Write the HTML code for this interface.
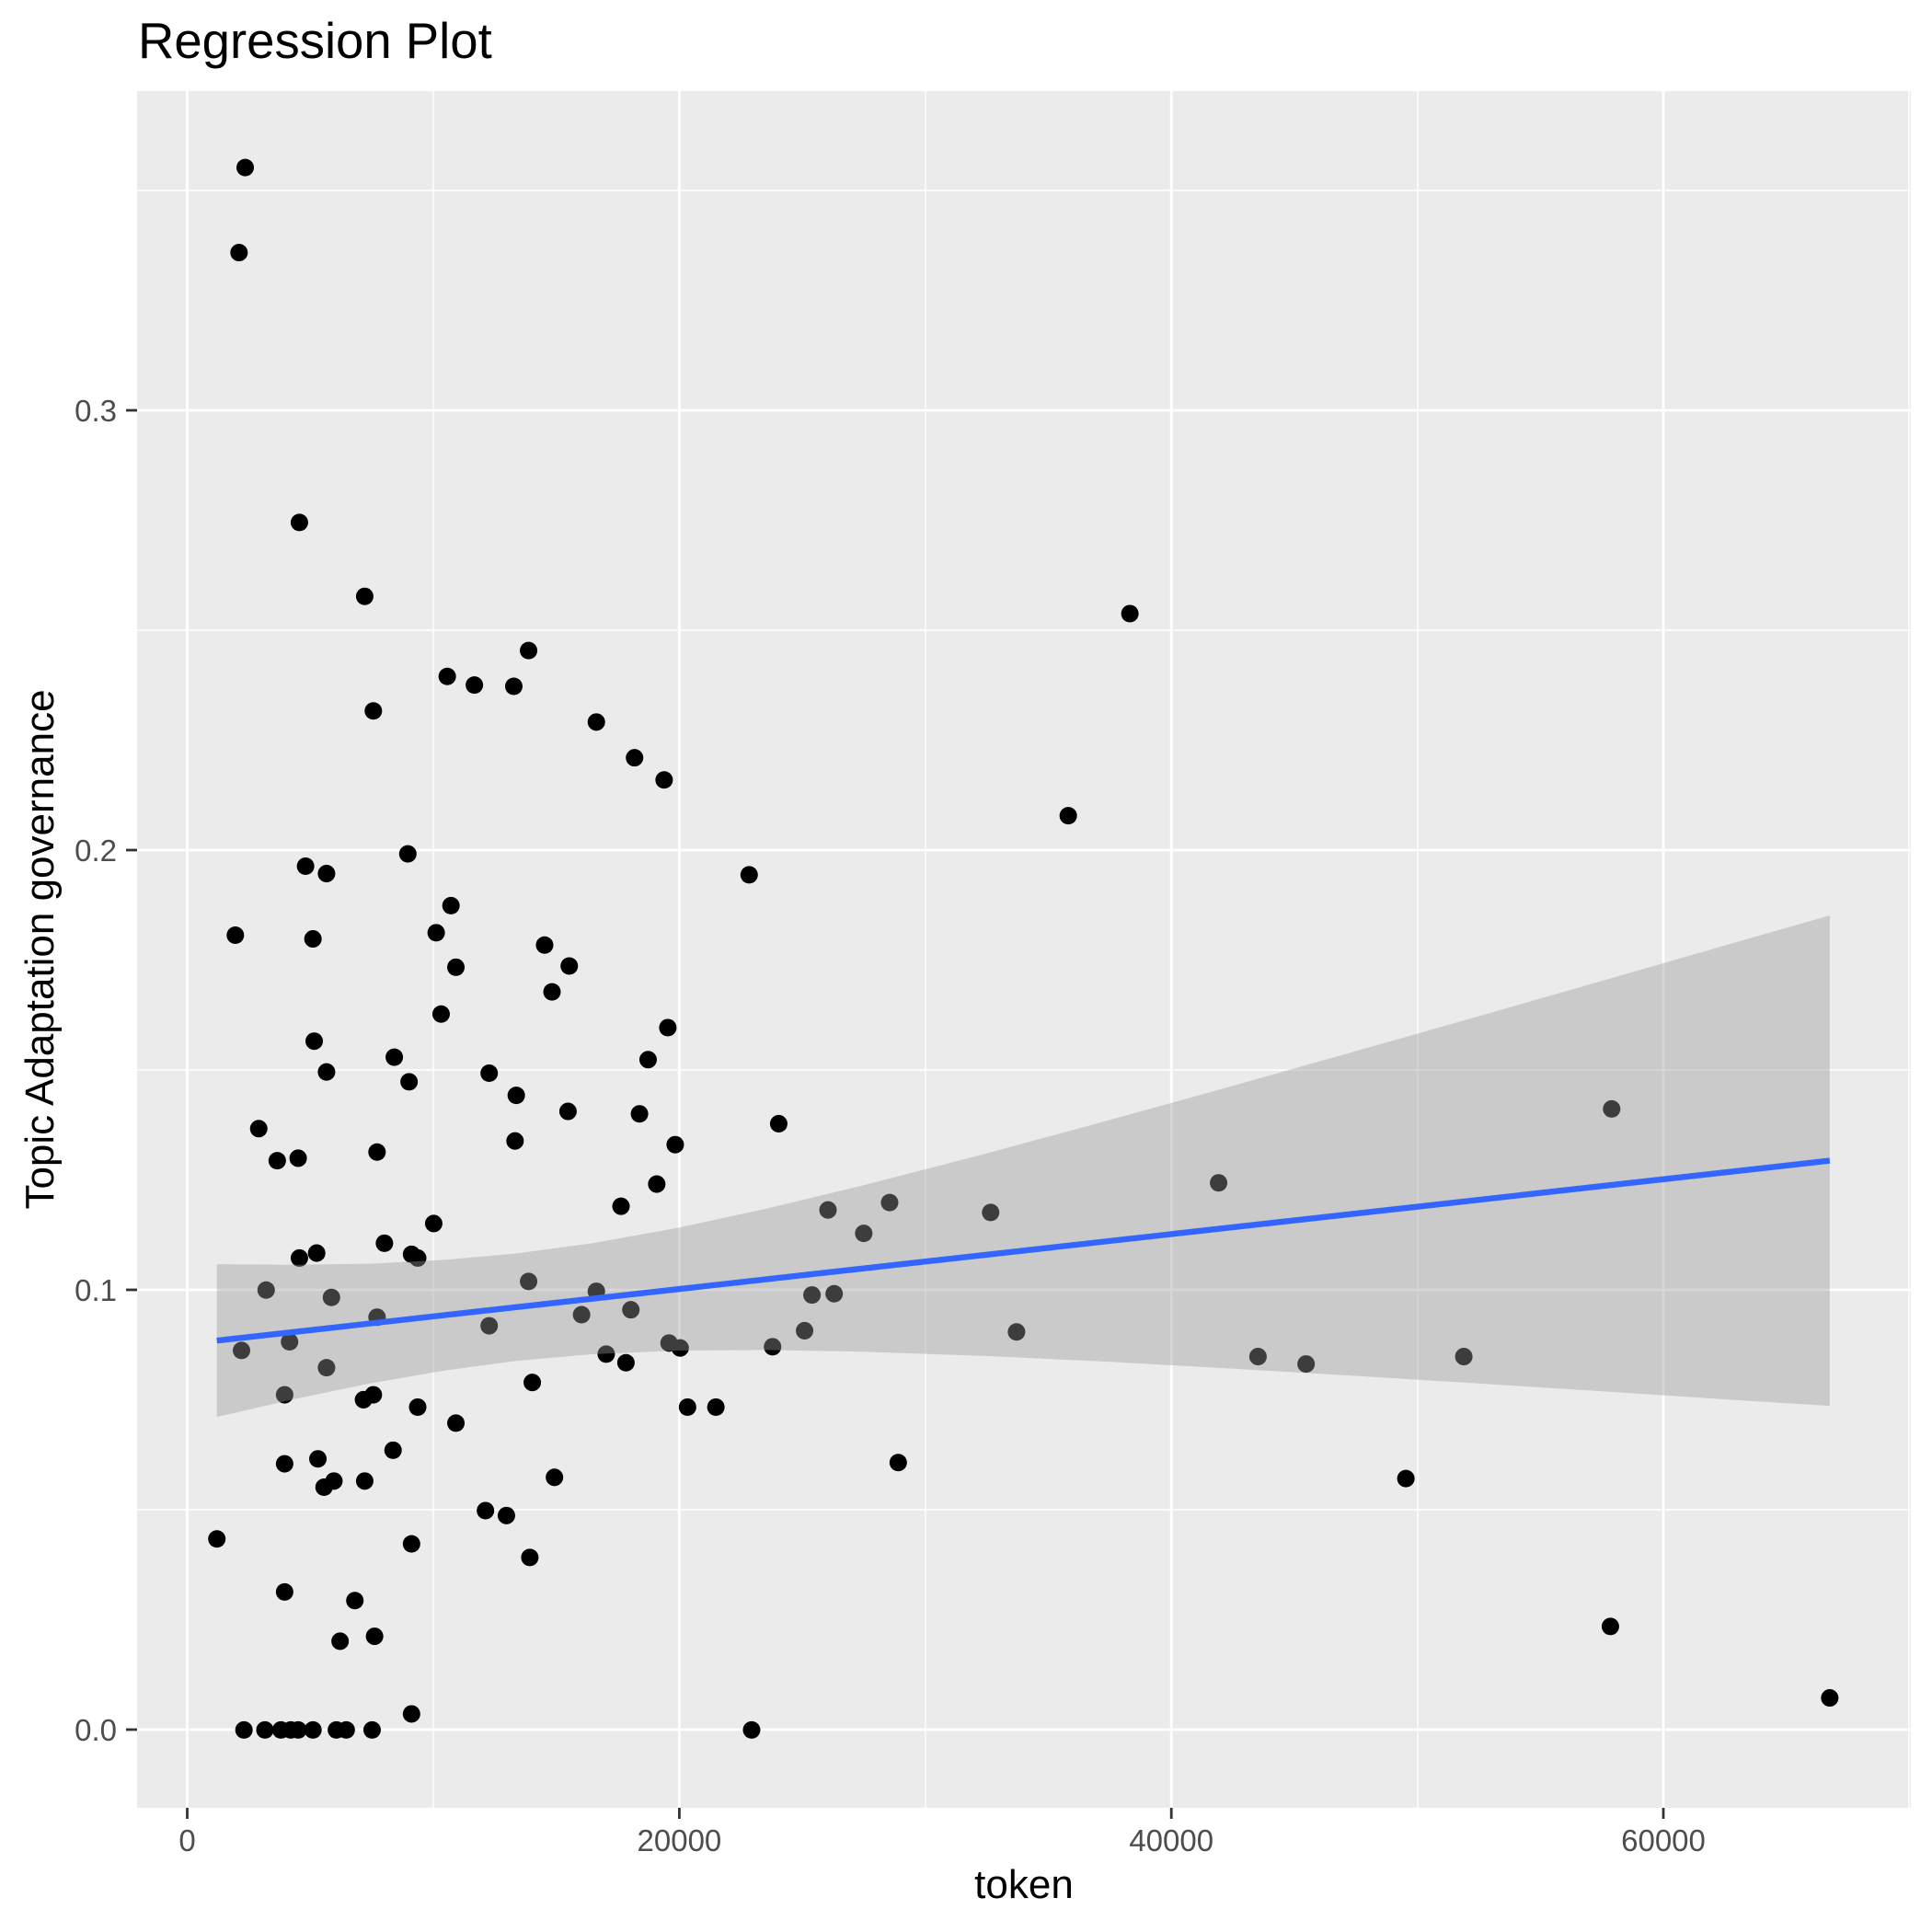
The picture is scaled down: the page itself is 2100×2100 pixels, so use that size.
<!DOCTYPE html>
<html><head><meta charset="utf-8"><style>html,body{margin:0;padding:0;background:#fff}svg{display:block}</style></head>
<body>
<svg xmlns="http://www.w3.org/2000/svg" width="2100" height="2100" viewBox="0 0 2100 2100" font-family="Liberation Sans, Arial, sans-serif">
<rect x="0" y="0" width="2100" height="2100" fill="#fff"/>
<rect x="149" y="99" width="1928" height="1866" fill="#EBEBEB"/>
<g stroke="#fff" stroke-width="1.4">
<line x1="471" y1="99" x2="471" y2="1965"/><line x1="1006" y1="99" x2="1006" y2="1965"/><line x1="1541" y1="99" x2="1541" y2="1965"/><line x1="2075" y1="99" x2="2075" y2="1965"/>
<line x1="149" y1="1641" x2="2077" y2="1641"/><line x1="149" y1="1163" x2="2077" y2="1163"/><line x1="149" y1="685" x2="2077" y2="685"/><line x1="149" y1="207" x2="2077" y2="207"/>
</g>
<g stroke="#fff" stroke-width="2.8">
<line x1="203.5" y1="99" x2="203.5" y2="1965"/><line x1="738.4" y1="99" x2="738.4" y2="1965"/><line x1="1273.2" y1="99" x2="1273.2" y2="1965"/><line x1="1808" y1="99" x2="1808" y2="1965"/>
<line x1="149" y1="1880" x2="2077" y2="1880"/><line x1="149" y1="1402" x2="2077" y2="1402"/><line x1="149" y1="924" x2="2077" y2="924"/><line x1="149" y1="446" x2="2077" y2="446"/>
</g>
<g transform="scale(1.33929)">
<g fill="#000">
<circle cx="199" cy="136" r="7.1"/><circle cx="194" cy="205" r="7.1"/><circle cx="243" cy="424" r="7.1"/><circle cx="296" cy="484" r="7.1"/><circle cx="917" cy="498" r="7.1"/><circle cx="429" cy="528" r="7.1"/><circle cx="303" cy="577" r="7.1"/><circle cx="363" cy="549" r="7.1"/><circle cx="385" cy="556" r="7.1"/><circle cx="417" cy="557" r="7.1"/><circle cx="484" cy="586" r="7.1"/><circle cx="515" cy="615" r="7.1"/><circle cx="539" cy="633" r="7.1"/><circle cx="867" cy="662" r="7.1"/><circle cx="331" cy="693" r="7.1"/><circle cx="248" cy="703" r="7.1"/><circle cx="265" cy="709" r="7.1"/><circle cx="608" cy="710" r="7.1"/><circle cx="191" cy="759" r="7.1"/><circle cx="254" cy="762" r="7.1"/><circle cx="366" cy="735" r="7.1"/><circle cx="354" cy="757" r="7.1"/><circle cx="442" cy="767" r="7.1"/><circle cx="462" cy="784" r="7.1"/><circle cx="370" cy="785" r="7.1"/><circle cx="448" cy="805" r="7.1"/><circle cx="358" cy="823" r="7.1"/><circle cx="542" cy="834" r="7.1"/><circle cx="255" cy="845" r="7.1"/><circle cx="320" cy="858" r="7.1"/><circle cx="526" cy="860" r="7.1"/><circle cx="332" cy="878" r="7.1"/><circle cx="397" cy="871" r="7.1"/><circle cx="265" cy="870" r="7.1"/><circle cx="419" cy="889" r="7.1"/><circle cx="461" cy="902" r="7.1"/><circle cx="519" cy="904" r="7.1"/><circle cx="632" cy="912" r="7.1"/><circle cx="1308" cy="900" r="7.1"/><circle cx="210" cy="916" r="7.1"/><circle cx="418" cy="926" r="7.1"/><circle cx="225" cy="942" r="7.1"/><circle cx="242" cy="940" r="7.1"/><circle cx="548" cy="929" r="7.1"/><circle cx="306" cy="935" r="7.1"/><circle cx="533" cy="961" r="7.1"/><circle cx="989" cy="960" r="7.1"/><circle cx="672" cy="982" r="7.1"/><circle cx="504" cy="979" r="7.1"/><circle cx="722" cy="976" r="7.1"/><circle cx="804" cy="984" r="7.1"/><circle cx="352" cy="993" r="7.1"/><circle cx="701" cy="1001" r="7.1"/><circle cx="312" cy="1009" r="7.1"/><circle cx="334" cy="1018" r="7.1"/><circle cx="339" cy="1021" r="7.1"/><circle cx="257" cy="1017" r="7.1"/><circle cx="243" cy="1021" r="7.1"/><circle cx="216" cy="1047" r="7.1"/><circle cx="429" cy="1040" r="7.1"/><circle cx="484" cy="1048" r="7.1"/><circle cx="269" cy="1053" r="7.1"/><circle cx="659" cy="1051" r="7.1"/><circle cx="677" cy="1050" r="7.1"/><circle cx="512" cy="1063" r="7.1"/><circle cx="472" cy="1067" r="7.1"/><circle cx="306" cy="1069" r="7.1"/><circle cx="397" cy="1076" r="7.1"/><circle cx="653" cy="1080" r="7.1"/><circle cx="825" cy="1081" r="7.1"/><circle cx="235" cy="1089" r="7.1"/><circle cx="196" cy="1096" r="7.1"/><circle cx="543" cy="1090" r="7.1"/><circle cx="552" cy="1094" r="7.1"/><circle cx="627" cy="1093" r="7.1"/><circle cx="492" cy="1099" r="7.1"/><circle cx="508" cy="1106" r="7.1"/><circle cx="1021" cy="1101" r="7.1"/><circle cx="1060" cy="1107" r="7.1"/><circle cx="1188" cy="1101" r="7.1"/><circle cx="265" cy="1110" r="7.1"/><circle cx="432" cy="1122" r="7.1"/><circle cx="231" cy="1132" r="7.1"/><circle cx="295" cy="1136" r="7.1"/><circle cx="303" cy="1132" r="7.1"/><circle cx="339" cy="1142" r="7.1"/><circle cx="558" cy="1142" r="7.1"/><circle cx="581" cy="1142" r="7.1"/><circle cx="370" cy="1155" r="7.1"/><circle cx="319" cy="1177" r="7.1"/><circle cx="231" cy="1188" r="7.1"/><circle cx="729" cy="1187" r="7.1"/><circle cx="258" cy="1184" r="7.1"/><circle cx="450" cy="1199" r="7.1"/><circle cx="1141" cy="1200" r="7.1"/><circle cx="271" cy="1202" r="7.1"/><circle cx="296" cy="1202" r="7.1"/><circle cx="263" cy="1207" r="7.1"/><circle cx="394" cy="1226" r="7.1"/><circle cx="411" cy="1230" r="7.1"/><circle cx="176" cy="1249" r="7.1"/><circle cx="334" cy="1253" r="7.1"/><circle cx="430" cy="1264" r="7.1"/><circle cx="231" cy="1292" r="7.1"/><circle cx="288" cy="1299" r="7.1"/><circle cx="1307" cy="1320" r="7.1"/><circle cx="304" cy="1328" r="7.1"/><circle cx="276" cy="1332" r="7.1"/><circle cx="1485" cy="1378" r="7.1"/><circle cx="334" cy="1391" r="7.1"/><circle cx="198" cy="1404" r="7.1"/><circle cx="215" cy="1404" r="7.1"/><circle cx="228" cy="1404" r="7.1"/><circle cx="236" cy="1404" r="7.1"/><circle cx="242" cy="1404" r="7.1"/><circle cx="254" cy="1404" r="7.1"/><circle cx="273" cy="1404" r="7.1"/><circle cx="281" cy="1404" r="7.1"/><circle cx="302" cy="1404" r="7.1"/><circle cx="610" cy="1404" r="7.1"/>
</g>
<polygon fill="#999999" fill-opacity="0.4" points="176,1026 238,1026.5 300,1025.6 360,1022.6 418,1017.4 480,1009.1 550,996.5 620,981.4 700,962.2 800,936.3 900,909.2 1000,881.4 1100,853.2 1200,824.8 1300,796.1 1400,767.3 1485,743 1485,1141 1400,1135.7 1300,1129.1 1200,1122.8 1100,1116.6 1000,1110.8 900,1105.2 800,1100.5 700,1097 620,1095.6 550,1096.1 480,1099.1 418,1104.6 360,1112.4 300,1122.8 238,1135.7 176,1150"/>
<line x1="176" y1="1088" x2="1485" y2="942" stroke="#3366FF" stroke-width="4.8"/>
</g>
<g stroke="#333" stroke-width="2.8">
<line x1="137" y1="1880" x2="149" y2="1880"/><line x1="137" y1="1402" x2="149" y2="1402"/><line x1="137" y1="924" x2="149" y2="924"/><line x1="137" y1="446" x2="149" y2="446"/>
<line x1="203.5" y1="1965" x2="203.5" y2="1977"/><line x1="738.4" y1="1965" x2="738.4" y2="1977"/><line x1="1273.2" y1="1965" x2="1273.2" y2="1977"/><line x1="1808" y1="1965" x2="1808" y2="1977"/>
</g>
<g fill="#4D4D4D" font-size="33" text-anchor="end">
<text x="127" y="1892">0.0</text><text x="127" y="1414">0.1</text><text x="127" y="936">0.2</text><text x="127" y="458">0.3</text>
</g>
<g fill="#4D4D4D" font-size="33" text-anchor="middle">
<text x="203.5" y="2012">0</text><text x="738.4" y="2012">20000</text><text x="1273.2" y="2012">40000</text><text x="1808" y="2012">60000</text>
</g>
<text x="1113" y="2063" font-size="44" text-anchor="middle" fill="#000">token</text>
<text transform="translate(58,1032) rotate(-90)" font-size="44" text-anchor="middle" fill="#000">Topic Adaptation governance</text>
<text x="150" y="63" font-size="54.5" fill="#000">Regression Plot</text>
</svg>
</body></html>
